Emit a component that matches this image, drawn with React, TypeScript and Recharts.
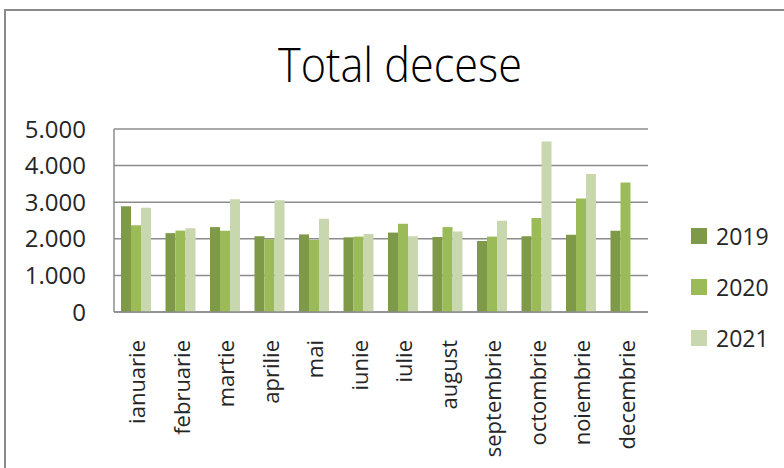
import { BarChart, Bar, XAxis, YAxis, CartesianGrid, Legend } from "recharts"

const months = [
  "ianuarie", "februarie", "martie", "aprilie", "mai", "iunie",
  "iulie", "august", "septembrie", "octombrie", "noiembrie", "decembrie",
]
const deaths2019 = [2890, 2155, 2320, 2070, 2120, 2040, 2170, 2050, 1940, 2070, 2110, 2220]
const deaths2020 = [2370, 2225, 2220, 1990, 1970, 2060, 2410, 2320, 2060, 2570, 3100, 3540]
const deaths2021 = [2845, 2290, 3080, 3050, 2550, 2130, 2070, 2200, 2490, 4660, 3770, null]
const yTicks = [0, 1000, 2000, 3000, 4000, 5000]

const series = [
  { key: "2019", values: deaths2019, color: "#7e9a48" },
  { key: "2020", values: deaths2020, color: "#9bbb59" },
  { key: "2021", values: deaths2021, color: "#c8d7ad" },
]

const data = months.map((month, i) => ({
  month,
  "2019": deaths2019[i],
  "2020": deaths2020[i],
  "2021": deaths2021[i],
}))

const font = "'Open Sans', 'Noto Sans', sans-serif"

function MonthTick({ x, y, payload }: any) {
  return (
    <text
      x={0}
      y={0}
      transform={`translate(${x},${y + 20}) rotate(-90)`}
      textAnchor="end"
      dominantBaseline="central"
      fontSize={22}
      fontFamily={font}
      fill="#262626"
    >
      {payload.value}
    </text>
  )
}

function LegendBox() {
  return (
    <div style={{ fontFamily: font }}>
      {series.map((s) => (
        <div key={s.key} style={{ display: "flex", alignItems: "center", height: 51 }}>
          <div style={{ width: 16, height: 16, background: s.color, marginRight: 9 }} />
          <span style={{ fontSize: 23, color: "#262626" }}>{s.key}</span>
        </div>
      ))}
    </div>
  )
}

export default function App() {
  return (
    <div style={{ position: "absolute", left: 0, top: 0, width: 784, height: 468, overflow: "hidden", background: "#fff" }}>
      <div
        style={{
          position: "absolute", left: 4, top: 9, width: 820, height: 520,
          border: "2px solid #8a8a8a", boxSizing: "border-box",
        }}
      />
      <svg style={{ position: "absolute", left: 0, top: 0 }} width={784} height={100}>
        <text x={400} y={82} textAnchor="middle" fontSize={47} fontFamily={font} fontWeight={300}
          fill="#000" textLength={244} lengthAdjust="spacingAndGlyphs">
          Total decese
        </text>
      </svg>
      <div style={{ position: "absolute", left: 0, top: 0 }}>
        <BarChart
          width={784}
          height={468}
          data={data}
          margin={{ top: 129, right: 136, bottom: 0, left: 0 }}
          barGap={0}
          barSize={10}
        >
          <CartesianGrid vertical={false} stroke="#8c8c8c" strokeWidth={1.5} />
          <XAxis
            dataKey="month"
            height={156}
            interval={0}
            tickLine={false}
            axisLine={{ stroke: "#8c8c8c", strokeWidth: 1.5 }}
            tick={<MonthTick />}
          />
          <YAxis
            width={114}
            domain={[0, 5000]}
            ticks={yTicks}
            tickFormatter={(v: number) => v.toLocaleString("de-DE")}
            tickLine={false}
            tickSize={0}
            tickMargin={28}
            axisLine={{ stroke: "#8c8c8c", strokeWidth: 1.5 }}
            tick={{ fontSize: 24, fontFamily: font, fill: "#262626" }}
          />
          <Legend
            layout="vertical"
            align="center"
            verticalAlign="middle"
            wrapperStyle={{ left: 691, top: 210, width: 90 }}
            content={<LegendBox />}
          />
          {series.map((s) => (
            <Bar key={s.key} dataKey={s.key} fill={s.color} isAnimationActive={false} />
          ))}
        </BarChart>
      </div>
    </div>
  )
}
